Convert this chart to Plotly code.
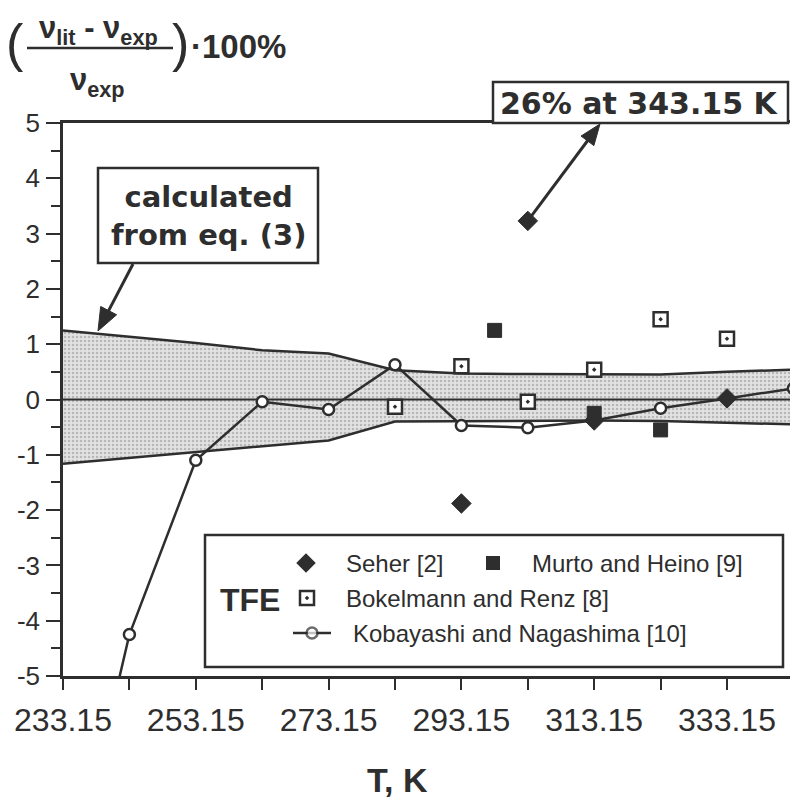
import plotly.graph_objects as go

# ---------------- data ----------------
T_band = [233.15, 253.15, 263.15, 273.15, 283.15, 293.15, 303.15, 313.15, 323.15, 333.15, 343.15]
band_upper = [1.25, 1.02, 0.89, 0.83, 0.53, 0.47, 0.46, 0.45, 0.45, 0.50, 0.54]
band_lower = [-1.16, -0.95, -0.85, -0.74, -0.40, -0.39, -0.38, -0.38, -0.39, -0.42, -0.45]

T_kob = [233.15, 243.15, 253.15, 263.15, 273.15, 283.15, 293.15, 303.15, 313.15, 323.15, 333.15, 343.15]
kob = [-9.4, -4.25, -1.10, -0.04, -0.18, 0.63, -0.47, -0.51, -0.38, -0.16, 0.02, 0.20]

T_seher = [293.15, 303.15, 313.15, 333.15]
seher = [-1.88, 3.23, -0.38, 0.02]

T_murto = [298.15, 313.15, 323.15]
murto = [1.25, -0.25, -0.55]

T_bok = [283.15, 293.15, 303.15, 313.15, 323.15, 333.15]
bok = [-0.13, 0.60, -0.04, 0.54, 1.45, 1.10]

x_ticks = [233.15, 253.15, 273.15, 293.15, 313.15, 333.15]
x_tick_text = ["233.15", "253.15", "273.15", "293.15", "313.15", "333.15"]
y_ticks = [5, 4, 3, 2, 1, 0, -1, -2, -3, -4, -5]
y_tick_text = ["5", "4", "3", "2", "1", "0", "-1", "-2", "-3", "-4", "-5"]

# ---------------- layout geometry ----------------
W, H = 790, 800
L, R, TOP, BOT = 63, 0, 123, 124
PW, PH = W - L - R, H - TOP - BOT
X0 = 233.15
PX_PER_K = 6.64
X1 = X0 + PW / PX_PER_K
Y0, Y1 = -5, 5

INK = "#2e2e2e"


def px2x(px):
    return X0 + (px - L) / PX_PER_K


def py2y(py):
    return Y1 - (py - TOP) / PH * (Y1 - Y0)


def x2px(x):
    return L + (x - X0) * PX_PER_K


def y2py(y):
    return TOP + (Y1 - y) / (Y1 - Y0) * PH


def xp(px):
    return (px - L) / PW


def yp(py):
    return (H - BOT - py) / PH


fig = go.Figure()

# shaded band "calculated from eq. (3)"
fig.add_trace(go.Scatter(x=T_band, y=band_lower, mode="lines",
                         line=dict(color=INK, width=2.5), showlegend=False, hoverinfo="skip"))
fig.add_trace(go.Scatter(x=T_band, y=band_upper, mode="lines", fill="tonexty",
                         fillcolor="#d9d9d9",
                         fillpattern=dict(shape=".", fgcolor="#8c8c8c", bgcolor="#e2e2e2",
                                          size=4, solidity=0.3),
                         line=dict(color=INK, width=2.5), showlegend=False, hoverinfo="skip"))
# zero line
fig.add_trace(go.Scatter(x=[X0, X1], y=[0, 0], mode="lines",
                         line=dict(color=INK, width=2), showlegend=False, hoverinfo="skip"))

# Kobayashi and Nagashima
fig.add_trace(go.Scatter(x=T_kob, y=kob, mode="lines+markers",
                         line=dict(color=INK, width=2.5),
                         marker=dict(symbol="circle", size=11, color="white",
                                     line=dict(color=INK, width=2.5)),
                         showlegend=False))
# Bokelmann and Renz
fig.add_trace(go.Scatter(x=T_bok, y=bok, mode="markers",
                         marker=dict(symbol="square-dot", size=14, color="white",
                                     line=dict(color=INK, width=2.5)),
                         showlegend=False))
# Murto and Heino
fig.add_trace(go.Scatter(x=T_murto, y=murto, mode="markers",
                         marker=dict(symbol="square", size=14, color=INK,
                                     line=dict(color=INK, width=1)),
                         showlegend=False))
# Seher
fig.add_trace(go.Scatter(x=T_seher, y=seher, mode="markers",
                         marker=dict(symbol="diamond", size=15, color=INK,
                                     line=dict(color=INK, width=1)),
                         showlegend=False))

# ---------------- manual legend ----------------
LEG_ROWS = [563, 598, 633]
fig.add_trace(go.Scatter(x=[px2x(306)], y=[py2y(LEG_ROWS[0])], mode="markers",
                         marker=dict(symbol="diamond", size=15, color=INK), showlegend=False,
                         hoverinfo="skip"))
fig.add_trace(go.Scatter(x=[px2x(493)], y=[py2y(LEG_ROWS[0])], mode="markers",
                         marker=dict(symbol="square", size=14, color=INK), showlegend=False,
                         hoverinfo="skip"))
fig.add_trace(go.Scatter(x=[px2x(307)], y=[py2y(LEG_ROWS[1])], mode="markers",
                         marker=dict(symbol="square-dot", size=14, color="white",
                                     line=dict(color=INK, width=2.5)),
                         showlegend=False, hoverinfo="skip"))
fig.add_trace(go.Scatter(x=[px2x(293), px2x(312), px2x(331)],
                         y=[py2y(LEG_ROWS[2])] * 3, mode="lines+markers",
                         line=dict(color=INK, width=2.5),
                         marker=dict(symbol="circle", size=[0, 11, 0], color="white",
                                     line=dict(color=INK, width=2.5)),
                         showlegend=False, hoverinfo="skip"))

shapes = []
# legend box
shapes.append(dict(type="rect", xref="paper", yref="paper",
                   x0=xp(205), x1=xp(783), y0=yp(667), y1=yp(535),
                   line=dict(color=INK, width=2.5), fillcolor="white", layer="below"))
# callout boxes
shapes.append(dict(type="rect", xref="paper", yref="paper",
                   x0=xp(493), x1=xp(788), y0=yp(123), y1=yp(82),
                   line=dict(color=INK, width=2.5), fillcolor="white", layer="above"))
shapes.append(dict(type="rect", xref="paper", yref="paper",
                   x0=xp(98), x1=xp(318), y0=yp(263), y1=yp(168),
                   line=dict(color=INK, width=2.5), fillcolor="white", layer="above"))
# fraction bar of y-axis header
shapes.append(dict(type="line", xref="paper", yref="paper",
                   x0=xp(27), x1=xp(173), y0=yp(48), y1=yp(48),
                   line=dict(color=INK, width=2.5)))


def arrow(tail, tip, head_len=21, half_w=8):
    (tx, ty), (hx, hy) = tail, tip
    dx, dy = hx - tx, hy - ty
    n = (dx * dx + dy * dy) ** 0.5
    ux, uy = dx / n, dy / n
    bx, by = hx - head_len * ux, hy - head_len * uy
    px_, py_ = -uy * half_w, ux * half_w
    shapes.append(dict(type="line", xref="paper", yref="paper",
                       x0=xp(tx), y0=yp(ty), x1=xp(bx + ux * 2), y1=yp(by + uy * 2),
                       line=dict(color=INK, width=3), layer="above"))
    path = "M {:.5f} {:.5f} L {:.5f} {:.5f} L {:.5f} {:.5f} Z".format(
        xp(hx), yp(hy), xp(bx + px_), yp(by + py_), xp(bx - px_), yp(by - py_))
    shapes.append(dict(type="path", xref="paper", yref="paper", path=path,
                       fillcolor=INK, line=dict(color=INK, width=1), layer="above"))


# arrow from the Seher point to the "26%" box, and from the "calculated" box to the band
arrow((x2px(T_seher[1]), y2py(seher[1])), (600, 124))
arrow((133, 264), (98, 331), head_len=23, half_w=9)

ann = []
BF = "Liberation Sans, Arial, sans-serif"
DJ = "DejaVu Sans, sans-serif"


def text_at(px, py, text, size, family=BF, xanchor="center", bold=False):
    ann.append(dict(xref="paper", yref="paper", x=xp(px), y=yp(py), text=text,
                    showarrow=False, xanchor=xanchor, yanchor="middle",
                    font=dict(size=size, family=family, color=INK,
                              weight="bold" if bold else "normal")))


# y-axis header
text_at(15, 43, "(", 52)
text_at(98, 30, "ν<sub>lit</sub> - ν<sub>exp</sub>", 31, bold=True)
text_at(97, 82, "ν<sub>exp</sub>", 31, bold=True)
text_at(180, 43, ")", 52)
text_at(189, 47, "·100%", 33, xanchor="left", bold=True)

# x-axis title
text_at(397, 780, "T, K", 34, bold=True)

# callout texts
text_at(639, 103, "26% at 343.15 K", 30, family=DJ, bold=True)
text_at(208, 216, "calculated<br>from eq. (3)", 29, family=DJ, bold=True)

# legend texts
text_at(218, 600, "TFE", 32, xanchor="left", bold=True)
text_at(344, LEG_ROWS[0], "Seher [2]", 24, xanchor="left")
text_at(530, LEG_ROWS[0], "Murto and Heino [9]", 24, xanchor="left")
text_at(344, LEG_ROWS[1], "Bokelmann and Renz [8]", 24, xanchor="left")
text_at(351, LEG_ROWS[2], "Kobayashi and Nagashima [10]", 24, xanchor="left")

fig.update_layout(
    width=W, height=H,
    margin=dict(l=L, r=R, t=TOP, b=BOT, pad=0),
    paper_bgcolor="white", plot_bgcolor="white",
    showlegend=False,
    shapes=shapes, annotations=ann,
    font=dict(family=BF, color=INK),
)
fig.update_xaxes(range=[X0, X1], showgrid=False, zeroline=False,
                 showline=True, linecolor=INK, linewidth=2.5, mirror=True,
                 ticks="outside", ticklen=11, tickwidth=2, tickcolor=INK,
                 tickvals=x_ticks, ticktext=x_tick_text,
                 tickfont=dict(size=32, family=BF, color=INK),
                 ticklabelstandoff=3,
                 minor=dict(dtick=10, tick0=X0, ticks="outside", ticklen=11,
                            tickwidth=2, tickcolor=INK, showgrid=False))
fig.update_yaxes(range=[Y0, Y1], showgrid=False, zeroline=False,
                 showline=True, linecolor=INK, linewidth=2.5,
                 ticks="outside", ticklen=14, tickwidth=2, tickcolor=INK,
                 tickvals=y_ticks, ticktext=y_tick_text,
                 tickfont=dict(size=26, family=BF, color=INK),
                 ticklabelstandoff=1,
                 minor=dict(dtick=0.5, tick0=0, ticks="outside", ticklen=9,
                            tickwidth=2, tickcolor=INK, showgrid=False))

fig.write_html("out.html")
